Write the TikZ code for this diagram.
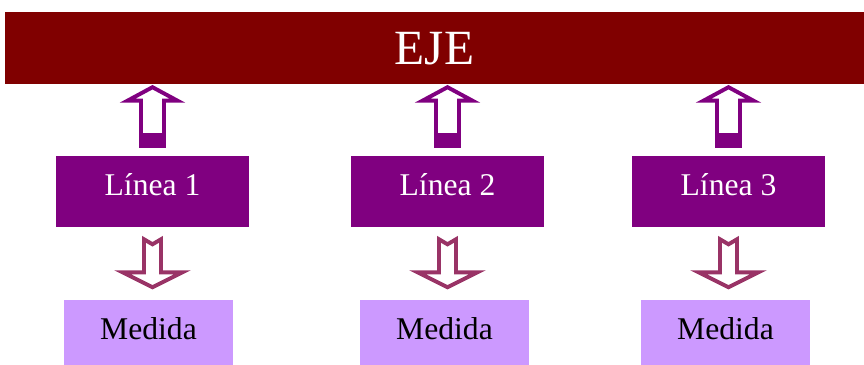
\documentclass[tikz,border=0pt]{standalone}
\usepackage{fontspec}
\setmainfont{Liberation Serif}
\definecolor{ejecolor}{HTML}{800000}
\definecolor{lineacolor}{HTML}{800080}
\definecolor{medidacolor}{HTML}{CC99FF}
\definecolor{flechacolor}{HTML}{993366}
\tikzset{
	ejebox/.style={fill=ejecolor, text=white, minimum width=21.475cm, minimum height=1.8cm, inner sep=0pt,
		text height=0.825cm, text depth=0cm, font=\fontsize{35}{40}\selectfont},
	lineabox/.style={fill=lineacolor, text=white, minimum width=4.825cm, minimum height=1.775cm, inner sep=0pt,
		text height=0.575cm, text depth=0.35cm, font=\fontsize{22.5}{26}\selectfont},
	medidabox/.style={fill=medidacolor, text=black, minimum width=4.225cm, minimum height=1.625cm, inner sep=0pt,
		text height=0.55cm, text depth=0.175cm, font=\fontsize{22.5}{26}\selectfont},
	flechaarriba/.style={draw=lineacolor, fill=white, line width=2.8pt, line join=miter},
	flechaabajo/.style={draw=flechacolor, fill=white, line width=2.8pt, line join=miter}
}
\begin{document}
\begin{tikzpicture}[x=0.025cm, y=-0.025cm]
		\useasboundingbox (0,0) rectangle (864,365);
		% Définition des noeuds
		\node[ejebox] (eje) at (434.5,48) {EJE};
		\node[lineabox] (linea1) at (152.5,191.5) {Línea 1};
		\node[lineabox] (linea2) at (447.5,191.5) {Línea 2};
		\node[lineabox] (linea3) at (728.5,191.5) {Línea 3};
		\node[medidabox] (medida1) at (148.5,332.5) {Medida};
		\node[medidabox] (medida2) at (444.5,332.5) {Medida};
		\node[medidabox] (medida3) at (725.5,332.5) {Medida};
		
		% Définition des flèches
		\foreach \i in {1,2,3} {
			\draw[flechaarriba] ([shift={(-11.5,-10)}]linea\i.north) -- ++(0,-45) -- ++(-13.5,0) -- ++(25,-13.5)
				-- ++(25,13.5) -- ++(-13.5,0) -- ++(0,45) -- cycle;
			\fill[lineacolor] ([shift={(-13.5,-8)}]linea\i.north) rectangle ++(27,-15);
			\draw[flechaabajo] ([shift={(-8.5,12)}]linea\i.south) -- ++(8.5,5) -- ++(8.5,-5) -- ++(0,33)
				-- ++(21.5,0) -- ++(-30,15) -- ++(-30,-15) -- ++(21.5,0) -- cycle;
		}
	\end{tikzpicture}
\end{document}
